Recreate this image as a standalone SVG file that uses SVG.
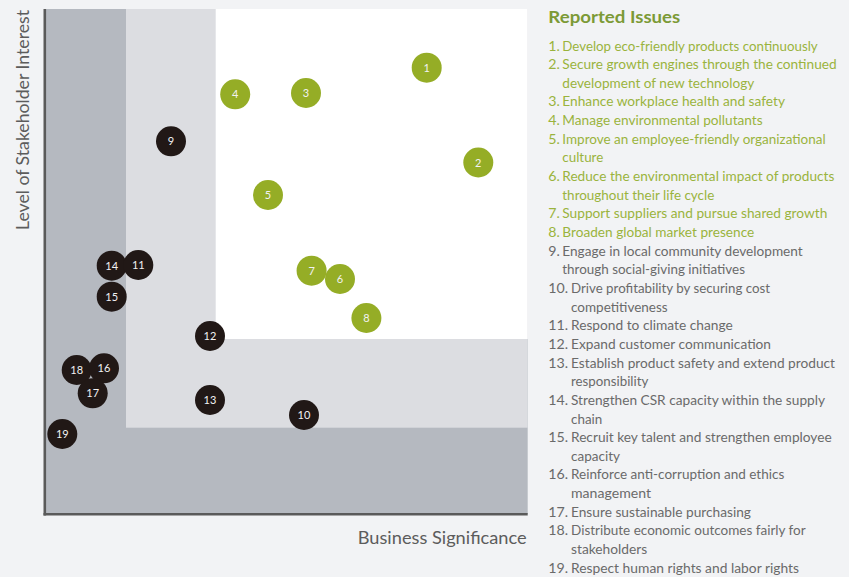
<svg xmlns="http://www.w3.org/2000/svg" width="849" height="577" viewBox="0 0 849 577">
<style>
.g{fill:#95ad26}
.d{fill:#211816}
.n{font-family:Lato,"Open Sans","Liberation Sans",sans-serif;font-size:11px;fill:#f2f2f2;text-anchor:middle}
.ax{font-family:Lato,"Open Sans","Liberation Sans",sans-serif;font-weight:400;font-size:18px;fill:#5c5c5c}
.hd{font-family:Lato,"Open Sans","Liberation Sans",sans-serif;font-weight:700;font-size:17px;fill:#7c9a36}
.li{font-family:Lato,"Open Sans","Liberation Sans",sans-serif;font-weight:400;font-size:14.2px}
.lg{fill:#9ab33d}
.lk{fill:#6a6a6a}
</style>
<rect width="849" height="577" fill="#f2f3f5"/>
<g id="chart">
<rect x="45" y="9" width="482.7" height="505" fill="#b5b9c0"/>
<rect x="126" y="9" width="401.7" height="418.7" fill="#dcdde1"/>
<rect x="215.7" y="9" width="312" height="330" fill="#ffffff"/>
<line x1="44.8" y1="9" x2="44.8" y2="515.5" stroke="#5a5a5a" stroke-width="2.6"/>
<line x1="43.5" y1="514.3" x2="527.7" y2="514.3" stroke="#5a5a5a" stroke-width="2.4"/>
<text class="ax" transform="translate(29.3,120) rotate(-90)" text-anchor="middle" textLength="220" lengthAdjust="spacingAndGlyphs">Level of Stakeholder Interest</text>
<text class="ax" x="357.7" y="544" textLength="169" lengthAdjust="spacingAndGlyphs">Business Significance</text>
</g>
<g id="n14"><circle class="d" cx="111.7" cy="265.7" r="15"/><text class="n" x="111.7" y="269.7">14</text></g>
<g id="n11"><circle class="d" cx="138.3" cy="265" r="15"/><text class="n" x="138.3" y="269">11</text></g>
<g id="n15"><circle class="d" cx="111.7" cy="296.7" r="15"/><text class="n" x="111.7" y="300.7">15</text></g>
<g id="n18"><circle class="d" cx="76.7" cy="370" r="15"/><text class="n" x="76.7" y="374">18</text></g>
<g id="n16"><circle class="d" cx="104" cy="368.3" r="15"/><text class="n" x="104" y="372.3">16</text></g>
<g id="n17"><circle class="d" cx="92.7" cy="393.3" r="15"/><text class="n" x="92.7" y="397.3">17</text></g>
<g id="n19"><circle class="d" cx="62.3" cy="434" r="15"/><text class="n" x="62.3" y="438">19</text></g>
<g id="n9"><circle class="d" cx="171" cy="141.3" r="15"/><text class="n" x="171" y="145.3">9</text></g>
<g id="n12"><circle class="d" cx="210" cy="336" r="15"/><text class="n" x="210" y="340">12</text></g>
<g id="n13"><circle class="d" cx="210" cy="400" r="15"/><text class="n" x="210" y="404">13</text></g>
<g id="n10"><circle class="d" cx="304" cy="415" r="15"/><text class="n" x="304" y="419">10</text></g>
<g id="n1"><circle class="g" cx="426.7" cy="67.7" r="15"/><text class="n" x="426.7" y="71.7">1</text></g>
<g id="n2"><circle class="g" cx="478.3" cy="162.5" r="15"/><text class="n" x="478.3" y="166.5">2</text></g>
<g id="n3"><circle class="g" cx="306" cy="93" r="15"/><text class="n" x="306" y="97">3</text></g>
<g id="n4"><circle class="g" cx="235.2" cy="94.3" r="15"/><text class="n" x="235.2" y="98.3">4</text></g>
<g id="n5"><circle class="g" cx="268" cy="195" r="15"/><text class="n" x="268" y="199">5</text></g>
<g id="n7"><circle class="g" cx="311.6" cy="270.7" r="15"/><text class="n" x="311.6" y="274.7">7</text></g>
<g id="n6"><circle class="g" cx="340" cy="279" r="15"/><text class="n" x="340" y="283">6</text></g>
<g id="n8"><circle class="g" cx="366.4" cy="318" r="15"/><text class="n" x="366.4" y="322">8</text></g>
<g id="legend">
<text class="hd" x="548.3" y="23.3" textLength="132" lengthAdjust="spacingAndGlyphs">Reported Issues</text>
<g class="li lg">
<text x="548.3" y="50.5">1.</text><text x="562.3" y="50.5" textLength="255.4" lengthAdjust="spacingAndGlyphs">Develop eco-friendly products continuously</text>
<text x="548.3" y="69.15">2.</text><text x="562.3" y="69.15" textLength="274.4" lengthAdjust="spacingAndGlyphs">Secure growth engines through the continued</text>
<text x="562.3" y="87.8" textLength="192" lengthAdjust="spacingAndGlyphs">development of new technology</text>
<text x="548.3" y="106.45">3.</text><text x="562.3" y="106.45" textLength="222.7" lengthAdjust="spacingAndGlyphs">Enhance workplace health and safety</text>
<text x="548.3" y="125.1">4.</text><text x="562.3" y="125.1" textLength="200.4" lengthAdjust="spacingAndGlyphs">Manage environmental pollutants</text>
<text x="548.3" y="143.75">5.</text><text x="562.3" y="143.75" textLength="263.4" lengthAdjust="spacingAndGlyphs">Improve an employee-friendly organizational</text>
<text x="562.3" y="162.4" textLength="41" lengthAdjust="spacingAndGlyphs">culture</text>
<text x="548.3" y="181.05">6.</text><text x="562.3" y="181.05" textLength="272" lengthAdjust="spacingAndGlyphs">Reduce the environmental impact of products</text>
<text x="562.3" y="199.7" textLength="152" lengthAdjust="spacingAndGlyphs">throughout their life cycle</text>
<text x="548.3" y="218.35">7.</text><text x="562.3" y="218.35" textLength="265" lengthAdjust="spacingAndGlyphs">Support suppliers and pursue shared growth</text>
<text x="548.3" y="237">8.</text><text x="562.3" y="237" textLength="192" lengthAdjust="spacingAndGlyphs">Broaden global market presence</text>
</g>
<g class="li lk">
<text x="548.3" y="255.65">9.</text><text x="562.3" y="255.65" textLength="240.4" lengthAdjust="spacingAndGlyphs">Engage in local community development</text>
<text x="562.3" y="274.3" textLength="182.7" lengthAdjust="spacingAndGlyphs">through social-giving initiatives</text>
<text x="548.3" y="292.95">10.</text><text x="571" y="292.95" textLength="199" lengthAdjust="spacingAndGlyphs">Drive profitability by securing cost</text>
<text x="571" y="311.6" textLength="96.7" lengthAdjust="spacingAndGlyphs">competitiveness</text>
<text x="548.3" y="330.25">11.</text><text x="571" y="330.25" textLength="161.7" lengthAdjust="spacingAndGlyphs">Respond to climate change</text>
<text x="548.3" y="348.9">12.</text><text x="571" y="348.9" textLength="200" lengthAdjust="spacingAndGlyphs">Expand customer communication</text>
<text x="548.3" y="367.55">13.</text><text x="571" y="367.55" textLength="264" lengthAdjust="spacingAndGlyphs">Establish product safety and extend product</text>
<text x="571" y="386.2" textLength="77.3" lengthAdjust="spacingAndGlyphs">responsibility</text>
<text x="548.3" y="404.85">14.</text><text x="571" y="404.85" textLength="254" lengthAdjust="spacingAndGlyphs">Strengthen CSR capacity within the supply</text>
<text x="571" y="423.5" textLength="31.3" lengthAdjust="spacingAndGlyphs">chain</text>
<text x="548.3" y="442.15">15.</text><text x="571" y="442.15" textLength="260.7" lengthAdjust="spacingAndGlyphs">Recruit key talent and strengthen employee</text>
<text x="571" y="460.8" textLength="49" lengthAdjust="spacingAndGlyphs">capacity</text>
<text x="548.3" y="479.45">16.</text><text x="571" y="479.45" textLength="213.3" lengthAdjust="spacingAndGlyphs">Reinforce anti-corruption and ethics</text>
<text x="571" y="498.1" textLength="80" lengthAdjust="spacingAndGlyphs">management</text>
<text x="548.3" y="516.75">17.</text><text x="571" y="516.75" textLength="180" lengthAdjust="spacingAndGlyphs">Ensure sustainable purchasing</text>
<text x="548.3" y="535.4">18.</text><text x="571" y="535.4" textLength="234.7" lengthAdjust="spacingAndGlyphs">Distribute economic outcomes fairly for</text>
<text x="571" y="554.05" textLength="76.3" lengthAdjust="spacingAndGlyphs">stakeholders</text>
<text x="548.3" y="572.7">19.</text><text x="571" y="572.7" textLength="228" lengthAdjust="spacingAndGlyphs">Respect human rights and labor rights</text>
</g>
</g>
</svg>
